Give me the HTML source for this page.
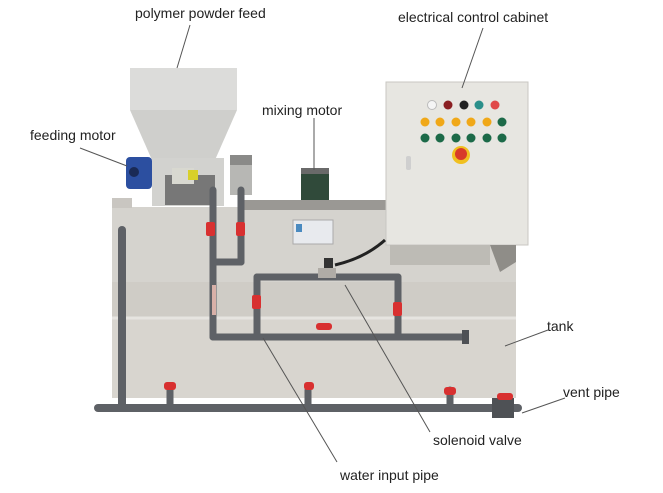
<!DOCTYPE html>
<html><head><meta charset="utf-8"><style>
html,body{margin:0;padding:0;background:#fff;}
svg{display:block}
text{font-family:"Liberation Sans","DejaVu Sans",sans-serif;font-size:14px;fill:#222}
</style></head><body>
<svg width="663" height="493" viewBox="0 0 663 493" xmlns="http://www.w3.org/2000/svg">
<rect width="663" height="493" fill="#fff"/>
<!-- tank -->
<rect x="112" y="207" width="404" height="75" fill="#d5d3ce"/>
<rect x="112" y="282" width="404" height="36" fill="#cfccc6"/>
<rect x="112" y="318" width="404" height="80" fill="#d8d5cf"/>
<line x1="112" y1="318" x2="516" y2="318" stroke="#e6e4e0" stroke-width="3"/>
<rect x="112" y="198" width="20" height="10" fill="#c9c6c1"/>
<!-- grill -->
<rect x="240" y="200" width="147" height="10" fill="#9a9894"/>
<!-- panel label -->
<rect x="293" y="220" width="40" height="24" fill="#e8eaee" stroke="#aaa"/>
<rect x="296" y="224" width="6" height="8" fill="#4a8ac0"/>
<!-- hopper -->
<rect x="130" y="68" width="107" height="42" fill="#dcdcda"/>
<polygon points="130,110 237,110 215,160 152,160" fill="#cfcfcc"/>
<rect x="152" y="158" width="72" height="48" fill="#d2d2cf"/>
<rect x="165" y="175" width="50" height="30" fill="#777"/>
<rect x="172" y="168" width="22" height="16" fill="#d8d8d0"/>
<rect x="188" y="170" width="10" height="10" fill="#d8d02a"/>
<!-- feeding motor -->
<rect x="126" y="157" width="26" height="32" rx="4" fill="#2c4fa0"/>
<circle cx="134" cy="172" r="5" fill="#1a2a55"/>
<!-- cylinder near hopper -->
<rect x="230" y="160" width="22" height="35" fill="#b7b7b4"/>
<rect x="230" y="155" width="22" height="10" fill="#8a8a88"/>
<!-- mixing motor -->
<rect x="301" y="170" width="28" height="30" fill="#304a3a"/>
<rect x="301" y="168" width="28" height="6" fill="#6a6a6a"/>
<!-- cabinet -->
<rect x="386" y="82" width="142" height="163" fill="#e7e6e1" stroke="#c8c7c2"/>
<rect x="390" y="245" width="100" height="20" fill="#bdbbb5"/>
<polygon points="490,245 516,245 516,262 500,272" fill="#8f8d88"/>
<rect x="406" y="156" width="5" height="14" rx="2" fill="#cfcfcf"/>
<g>
<circle cx="432" cy="105" r="4.5" fill="#f5f5f5" stroke="#bbb"/>
<circle cx="448" cy="105" r="4.5" fill="#8a1f22"/>
<circle cx="464" cy="105" r="4.5" fill="#222"/>
<circle cx="479" cy="105" r="4.5" fill="#2a8f8a"/>
<circle cx="495" cy="105" r="4.5" fill="#e04848"/>
<circle cx="425" cy="122" r="4.5" fill="#f0a818"/>
<circle cx="440" cy="122" r="4.5" fill="#f0a818"/>
<circle cx="456" cy="122" r="4.5" fill="#f0a818"/>
<circle cx="471" cy="122" r="4.5" fill="#f0a818"/>
<circle cx="487" cy="122" r="4.5" fill="#f0a818"/>
<circle cx="502" cy="122" r="4.5" fill="#1c6a48"/>
<circle cx="425" cy="138" r="4.5" fill="#1c6a48"/>
<circle cx="440" cy="138" r="4.5" fill="#1c6a48"/>
<circle cx="456" cy="138" r="4.5" fill="#1c6a48"/>
<circle cx="471" cy="138" r="4.5" fill="#1c6a48"/>
<circle cx="487" cy="138" r="4.5" fill="#1c6a48"/>
<circle cx="502" cy="138" r="4.5" fill="#1c6a48"/>
<circle cx="461" cy="155" r="9" fill="#f0c020"/>
<circle cx="461" cy="154" r="6" fill="#d83a2a"/>
</g>
<!-- cable -->
<path d="M385 240 Q365 258 335 265" stroke="#222" stroke-width="3" fill="none"/>
<!-- pipes -->
<g stroke="#5e6166" fill="none" stroke-linecap="round">
<line x1="122" y1="230" x2="122" y2="405" stroke-width="8"/>
<line x1="98" y1="408" x2="518" y2="408" stroke-width="8"/>
<line x1="213" y1="190" x2="213" y2="337" stroke-width="7"/>
<line x1="241" y1="190" x2="241" y2="262" stroke-width="7"/>
<line x1="213" y1="262" x2="241" y2="262" stroke-width="7"/>
<line x1="213" y1="337" x2="465" y2="337" stroke-width="7"/>
<line x1="257" y1="277" x2="257" y2="337" stroke-width="7"/>
<line x1="257" y1="277" x2="398" y2="277" stroke-width="7"/>
<line x1="398" y1="277" x2="398" y2="337" stroke-width="7"/>
<line x1="170" y1="390" x2="170" y2="408" stroke-width="7"/>
<line x1="308" y1="390" x2="308" y2="408" stroke-width="7"/>
<line x1="450" y1="390" x2="450" y2="408" stroke-width="7"/>
</g>
<rect x="462" y="330" width="7" height="14" fill="#4e5155"/>
<rect x="492" y="398" width="22" height="20" fill="#4e5155"/>
<rect x="318" y="268" width="18" height="10" fill="#b0aca6"/>
<rect x="324" y="258" width="9" height="10" fill="#333"/>
<rect x="212" y="285" width="4" height="30" fill="#d8b0a8"/>
<!-- red valves -->
<g fill="#d83030">
<rect x="206" y="222" width="9" height="14" rx="2"/>
<rect x="236" y="222" width="9" height="14" rx="2"/>
<rect x="252" y="295" width="9" height="14" rx="2"/>
<rect x="393" y="302" width="9" height="14" rx="2"/>
<rect x="316" y="323" width="16" height="7" rx="3"/>
<rect x="164" y="382" width="12" height="8" rx="3"/>
<rect x="304" y="382" width="10" height="8" rx="3"/>
<rect x="444" y="387" width="12" height="8" rx="3"/>
<rect x="497" y="393" width="16" height="7" rx="3"/>
</g>
<!-- leader lines -->
<g stroke="#555" stroke-width="1" fill="none">
<line x1="190" y1="25" x2="177" y2="68"/>
<line x1="483" y1="28" x2="462" y2="88"/>
<line x1="314" y1="118" x2="314" y2="170"/>
<line x1="80" y1="148" x2="127" y2="166"/>
<line x1="548" y1="330" x2="505" y2="346"/>
<line x1="565" y1="398" x2="522" y2="413"/>
<line x1="430" y1="432" x2="345" y2="285"/>
<line x1="337" y1="462" x2="263" y2="338"/>
</g>
<text x="135" y="18">polymer powder feed</text>
<text x="398" y="22">electrical control cabinet</text>
<text x="262" y="115">mixing motor</text>
<text x="30" y="140">feeding motor</text>
<text x="547" y="331">tank</text>
<text x="563" y="397">vent pipe</text>
<text x="433" y="445">solenoid valve</text>
<text x="340" y="480">water input pipe</text>
</svg>
</body></html>
